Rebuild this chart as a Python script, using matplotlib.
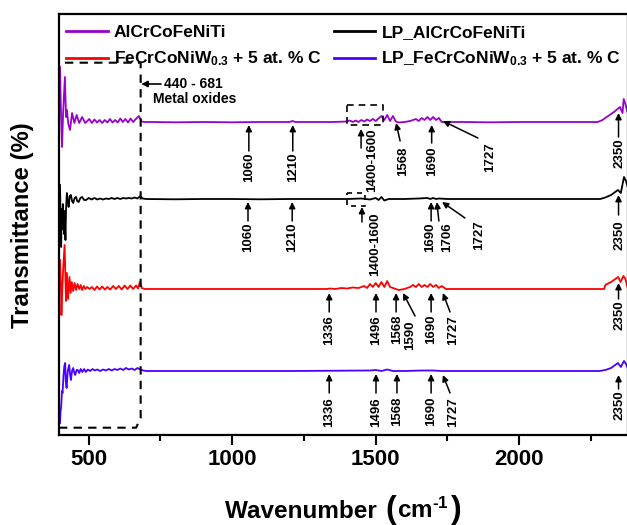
import matplotlib
matplotlib.use('Agg')
import matplotlib.pyplot as plt
from matplotlib.offsetbox import TextArea, HPacker, AnchoredOffsetbox
from matplotlib.ticker import MultipleLocator

plt.rcParams['font.family'] = ['Liberation Sans', 'DejaVu Sans']
plt.rcParams['font.weight'] = 'bold'
plt.rcParams['mathtext.fontset'] = 'custom'
plt.rcParams['mathtext.rm'] = 'Liberation Sans:bold'
plt.rcParams['mathtext.bf'] = 'Liberation Sans:bold'
plt.rcParams['mathtext.it'] = 'Liberation Sans:bold:italic'
plt.rcParams['mathtext.default'] = 'bf'

# ---------------- data (arbitrary transmittance units) -------------
labels = ['AlCrCoFeNiTi', 'LP_AlCrCoFeNiTi',
          'FeCrCoNiW$_{0.3}$ + 5 at. % C', 'LP_FeCrCoNiW$_{0.3}$ + 5 at. % C']
colors = ['#9900CC', '#000000', '#FF0000', '#4A00FF']
offsets = [313, 236, 146, 64]

purple_w = [400, 403, 407, 411, 417, 421, 424, 429, 435, 442, 450, 458, 467, 477, 488, 502,
            511, 520, 529, 538, 547, 556, 565, 574, 583, 592, 601, 610, 619, 628, 637, 646, 655,
            664, 675, 684, 695, 720, 800, 900, 1000, 1100, 1200, 1210, 1220,
            1300, 1350, 1400, 1410, 1420, 1430, 1440, 1450, 1460, 1470, 1480, 1490, 1500, 1510, 1520,
            1530, 1540, 1550, 1560, 1570, 1580, 1600, 1620, 1640, 1650, 1660, 1670, 1680, 1690, 1700,
            1710, 1720, 1730, 1750, 1800, 1900, 2000, 2100, 2200, 2274, 2290, 2310, 2330, 2351, 2360,
            2364, 2370, 2378]
purple_v = [55, 15, -25, 10, 45, 5, 12, -2, -8, 9, -1, 7, -1, 5, -1, 3,
            -1, 2.5, -0.5, 2, -1, 2, -0.5, 3, -0.5, 2, -0.5, 3.5, 0, 3, -0.5, 3.5, 0,
            3, 6, 0.5, 0, 0, -0.3, 0, -0.3, 0, 0, 1, 0,
            0, 0, 0.5, 1.5, 0, 1.5, 0, 2, 0.5, 2.5, 1, 3, 1, 3.5, 6,
            2, 7, 1, 6, 0.5, -0.5, 0, 1, 3, 1, 4, 2, 5, 2, 5,
            2, 4, 0, 0, 0, -0.3, 0, 0, 0, 0, 2, 6, 10, 15, 9,
            23, 18, 9]

black_w = [400, 402, 404, 406, 408, 410, 412, 414, 416, 419, 421, 424, 427, 430, 434, 438, 442, 446,
           451, 456, 460, 465, 471, 477, 484, 491, 500, 510, 520, 530, 540, 550, 560, 570, 580, 590,
           600, 610, 620, 630, 640, 650, 660, 670, 680, 688, 700,
           800, 900, 1000, 1100, 1200, 1300, 1400, 1450, 1480, 1500, 1510, 1520, 1530, 1545, 1600,
           1650, 1680, 1690, 1700, 1710, 1720, 1750, 2000, 2282, 2300, 2320, 2344, 2354, 2365, 2372,
           2378]
black_v = [14, -20, -48, -10, -30, -5, -18, -35, -12, -41, -10, 6, -2, -8, 3, 4, -2, -4,
           1, 2, -2, -3, 1, 2, -1, -1, 1, -0.5, 1, -0.5, 0.5, -0.5, 0.5, 0, 1, 0,
           1, 0, 1, 0.5, 1, 0.5, 1.5, 0.5, 3, 0.5, 0,
           -0.3, 0, 0, -0.3, 0, 0, 0, 0.5, -0.5, 1, -1, 2, -1.5, 0, 0,
           0.5, 1, 0, 1, 0, 0.5, 0, 0, 0, 1.5, 4, 9, 6, 22, 18,
           12]

red_w = [400, 403, 405, 408, 411, 416, 419, 421, 424, 428, 433, 437, 441, 446, 451, 456, 461, 467,
         472, 477, 483, 488, 495, 503, 511, 520, 529, 538, 547, 556, 565, 575, 585, 595, 605, 615,
         625, 635, 645, 655, 665, 672, 678, 685, 695, 800, 1000, 1200, 1330, 1340, 1360, 1380,
         1400, 1420, 1440, 1460, 1470, 1480, 1490, 1500, 1510, 1520, 1530, 1540, 1550, 1560, 1580,
         1600, 1620, 1630, 1640, 1650, 1660, 1670, 1680, 1690, 1700, 1710, 1720, 1730, 1745, 1800,
         2000, 2200, 2296, 2300, 2320, 2345, 2353, 2363, 2370, 2378]
red_v = [29, 5, -26, 0, 20, 44, 10, -12, 16, -10, 12, -4, 7, -2, 6, -1, 5, 0,
         4, -1, 3, 0, 2, 0, 2, -1, 2.5, -0.5, 2.5, -0.5, 2, -0.5, 3, 0, 3, -0.5,
         3.5, 0, 3.5, 0, 3.5, 0.5, 7, 1, 0, 0, 0, 0, 0, 0.5, 0, 1,
         0.5, 1.5, 1, 3, 1, 5, 2, 6, 2, 7, 2, 8, 2, 1, -1,
         0, 2, 4, 2, 5, 2, 4, 2, 5, 2, 4, 1, 3, 0, 0,
         0, 0, 0, 4, 7, 12, 7, 13, 10, 1]

blue_w = [400, 402, 404, 407, 409, 412, 415, 418, 420, 423, 427, 432, 435, 438, 442, 446, 450, 453,
          458, 462, 467, 472, 478, 484, 490, 497, 505, 513, 521, 530, 540, 550, 560, 570, 580, 590,
          600, 610, 620, 630, 640, 650, 660, 670, 680, 690, 700, 900, 1200, 1480, 1500, 1520, 1540,
          1560, 1600, 1660, 1700, 1730, 2000,
          2280, 2300, 2320, 2344, 2354, 2365, 2372, 2378]
blue_v = [-52, -40, -36, -20, -22, -5, 5, 8, -10, -17, 0, 6, -3, -9, 0, 3, -2, -4,
          1, 1, -2, 2, -1, 2, -1, 1.5, 0, 2, 0.5, 1.5, 0, 1.5, 0.5, 2, 0.5, 2,
          1, 2.5, 1, 3, 1.5, 2.5, 1, 3, 1.5, 0.5, 0, 0, 0, 0.5, 1, 0, 1.5,
          0, 0, 0.5, 0.5, 0, 0,
          0, 1, 3, 8, 4, 10, 7, 3]

series_w = [purple_w, black_w, red_w, blue_w]
series_v = [purple_v, black_v, red_v, blue_v]

xticks_major = [500, 1000, 1500, 2000]

# annotations: (label, head_w, head_px, tail_w, tail_px, text_w, text_top_px)
annotations = [
    # AlCrCoFeNiTi
    ('1060', 1058, 125, 1058, 151, 1058, 152),
    ('1210', 1211, 125, 1211, 151, 1211, 152),
    ('1400-1600', 1449, 129, 1449, 148, 1488, 128),
    ('1568', 1571, 123, 1585, 141, 1594, 147),
    ('1690', 1695, 125, 1695, 143, 1695, 147),
    ('1727', 1734, 121, 1856, 138, 1898, 142),
    ('2350', 2346, 113, 2346, 137, 2349, 138),
    # LP_AlCrCoFeNiTi
    ('1060', 1055, 202, 1055, 221, 1055, 223),
    ('1210', 1209, 202, 1209, 221, 1209, 223),
    ('1400-1600', 1452, 207, 1452, 222, 1498, 213),
    ('1690', 1693, 202, 1693, 221, 1689, 223),
    ('1706', 1713, 202, 1720, 221, 1748, 222),
    ('1727', 1731, 202, 1811, 218, 1860, 220),
    ('2350', 2346, 195, 2346, 215, 2349, 220),
    # FeCrCoNiW + C
    ('1336', 1338, 293, 1338, 312, 1338, 315),
    ('1496', 1501, 293, 1501, 312, 1501, 315),
    ('1568', 1571, 293, 1571, 312, 1574, 315),
    ('1590', 1595, 293, 1637, 316, 1620, 320),
    ('1690', 1693, 293, 1693, 312, 1693, 315),
    ('1727', 1734, 293, 1759, 312, 1770, 315),
    ('2350', 2346, 283, 2346, 299, 2349, 300),
    # LP_FeCrCoNiW + C
    ('1336', 1338, 374, 1338, 393, 1338, 397),
    ('1496', 1501, 374, 1501, 393, 1501, 397),
    ('1568', 1574, 374, 1574, 393, 1574, 397),
    ('1690', 1693, 374, 1693, 393, 1693, 397),
    ('1727', 1734, 375, 1759, 393, 1770, 397),
    ('2350', 2346, 375, 2346, 389, 2349, 390),
]

# ---------------- figure ----------------
W, H = 627, 525
fig = plt.figure(figsize=(W / 100, H / 100), dpi=100)
ax_top, ax_bot, ax_l, ax_r = 14, 435, 59, 628
ax = fig.add_axes([ax_l / W, 1 - ax_bot / H, (ax_r - ax_l) / W, (ax_bot - ax_top) / H])
ax.set_xlim(396.5, 2379)
ax.set_ylim(0, ax_bot - ax_top)


def py(px):
    return ax_bot - px


handles = []
for w, v, off, c, lab in zip(series_w, series_v, offsets, colors, labels):
    h, = ax.plot(w, [off + d for d in v], color=c, lw=1.3, label=lab)
    handles.append(h)

# legend (column-wise fill)
order = [0, 2, 1, 3]
leg = ax.legend([handles[i] for i in order], [labels[i] for i in order], ncol=2,
                loc='upper left', bbox_to_anchor=((66 - ax_l) / (ax_r - ax_l), 1 - 11 / 421),
                frameon=False, fontsize=12.5, handlelength=2.4, handletextpad=0.35,
                columnspacing=0.7, labelspacing=0.55, borderpad=0, borderaxespad=0)
for lh in leg.get_lines():
    lh.set_linewidth(2)

# dashed region for metal oxides
box_x = [396.5, 665, 681, 681, 396.5]
box_y = [py(427.7), py(427.7), py(418), py(62.7), py(62.7)]
ax.plot(box_x, box_y, color='black', lw=1.5, ls=(0, (4, 3)), clip_on=False)
ax.annotate('', xy=(683, py(84)), xytext=(752, py(84)),
            arrowprops=dict(arrowstyle='-|>', color='black', lw=1.2, shrinkA=0, shrinkB=0,
                            mutation_scale=9))
ax.text(764, py(84), '440 - 681', fontsize=10, fontweight='bold', ha='left', va='center')
ax.text(868, py(99), 'Metal oxides', fontsize=10, fontweight='bold', ha='center', va='center')

# small dashed boxes around 1400-1600
ax.plot([1399, 1525, 1525, 1399, 1399], [py(105), py(105), py(125), py(125), py(105)],
        color='black', lw=1.2, ls=(0, (4, 3)))
ax.plot([1400, 1462, 1462, 1400, 1400], [py(193), py(193), py(206), py(206), py(193)],
        color='black', lw=1.2, ls=(0, (3, 3)))

for lab, hw, hp, tw, tp, xw, xp in annotations:
    ax.annotate('', xy=(hw, py(hp)), xytext=(tw, py(tp)),
                arrowprops=dict(arrowstyle='-|>', color='black', lw=1.1, shrinkA=0, shrinkB=0,
                                mutation_scale=9))
    ax.text(xw, py(xp), lab, rotation=90, fontsize=9.5, fontweight='bold',
            ha='center', va='top')

# axes styling
ax.set_yticks([])
ax.set_xticks(xticks_major)
ax.xaxis.set_minor_locator(MultipleLocator(250))
ax.tick_params(axis='x', which='major', direction='out', length=7, width=1.5,
               labelsize=16, pad=3)
ax.tick_params(axis='x', which='minor', direction='out', length=4, width=1.5)
for lbl in ax.get_xticklabels():
    lbl.set_fontweight('bold')
for s in ax.spines.values():
    s.set_linewidth(1.6)

fig.text(23 / W, 1 - 225 / H, 'Transmittance (%)', rotation=90, fontsize=17.2,
         fontweight='bold', ha='center', va='center')

parts = [TextArea('Wavenumber ', textprops=dict(fontsize=17.5, fontweight='bold')),
         TextArea('(', textprops=dict(fontsize=23, fontweight='bold')),
         TextArea('cm$^{\\text{-}1}$', textprops=dict(fontsize=17.5, fontweight='bold')),
         TextArea(')', textprops=dict(fontsize=23, fontweight='bold'))]
pack = HPacker(children=parts, align='baseline', pad=0, sep=1)
ab = AnchoredOffsetbox(loc='lower center', child=pack, frameon=False, pad=0, borderpad=0,
                       bbox_to_anchor=(343.5 / W, 0.0 / H), bbox_transform=fig.transFigure)
fig.add_artist(ab)

fig.savefig('out.png', dpi=100)
